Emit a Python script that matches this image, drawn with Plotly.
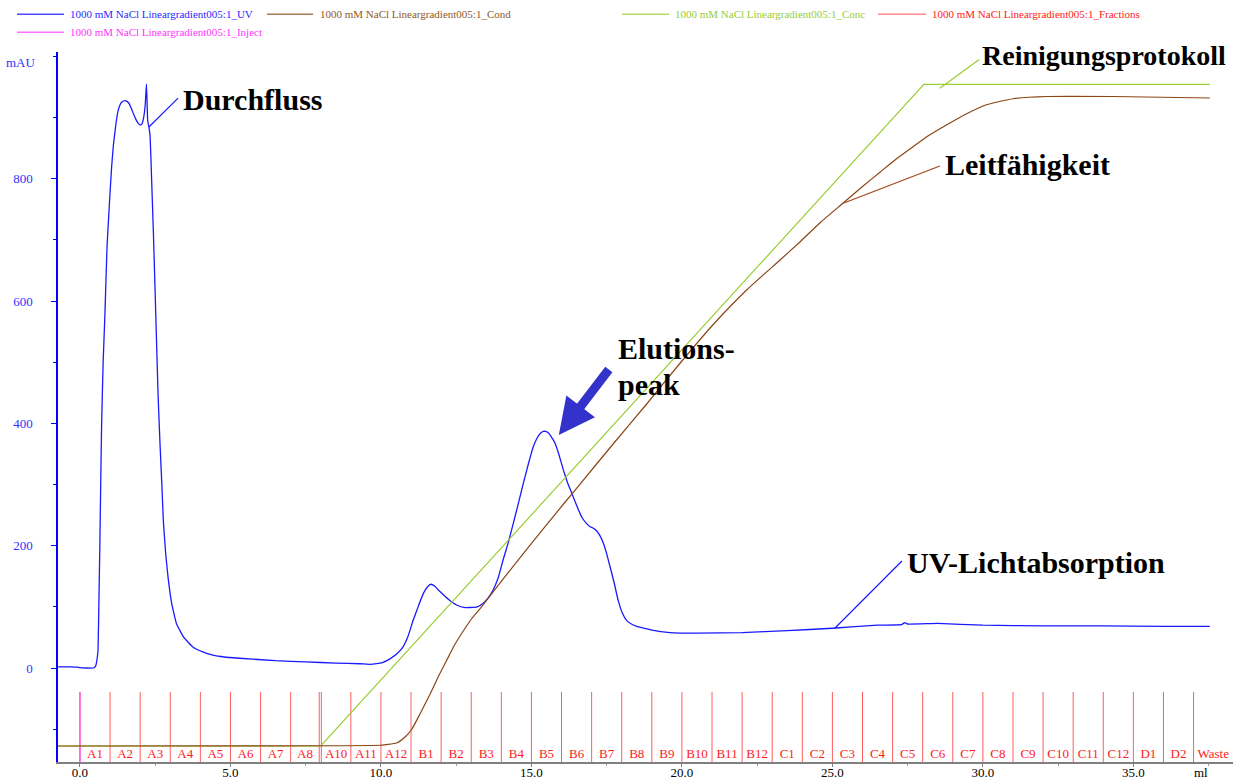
import plotly.graph_objects as go

# ---------------- data ----------------
# UV absorbance at 280 nm (mAU) against eluted volume (ml)
uv_ml = [-0.73, -0.3, -0.1, 0.0, 0.2, 0.45, 0.52, 0.56, 0.60, 0.63, 0.66, 0.69, 0.72,
         0.77, 0.83, 0.90, 0.99, 1.05, 1.11, 1.19, 1.27, 1.34, 1.40, 1.48, 1.55, 1.62,
         1.70, 1.78, 1.85, 1.93, 2.00, 2.06, 2.10, 2.14, 2.17, 2.19, 2.21, 2.23, 2.25,
         2.29, 2.33, 2.38, 2.44, 2.50, 2.55, 2.60, 2.66, 2.72, 2.77, 2.85, 2.93, 3.05,
         3.21, 3.45, 3.76, 4.1, 4.42, 4.8, 5.3, 6.5, 7.5, 8.5, 9.3,
         9.63, 9.85, 10.05, 10.3, 10.55, 10.74, 10.9, 11.07, 11.25, 11.41, 11.55, 11.66,
         11.78, 11.96, 12.25, 12.51, 12.75, 12.96, 13.20, 13.40, 13.57, 13.73, 13.90,
         14.06, 14.23, 14.40, 14.57, 14.73, 14.90, 15.06, 15.20, 15.30, 15.40, 15.47,
         15.55, 15.65, 15.78, 15.92, 16.06, 16.20, 16.34, 16.50, 16.67, 16.82, 16.95,
         17.08, 17.17, 17.28, 17.39, 17.50, 17.61, 17.75, 17.88, 18.02, 18.16, 18.32,
         18.5, 18.75, 19.0, 19.6, 20.5, 22.0, 23.5, 25.0, 26.5, 27.3, 27.4, 27.5, 28.5,
         30.0, 32.0, 34.0, 36.0, 37.54]
uv_mau = [2, 2, 1.5, 0.5, 0, 0, 3, 12, 30, 110, 200, 305, 400,
          500, 580, 690, 770, 818, 855, 888, 912, 922, 926, 928, 927, 924,
          916, 906, 898, 891, 888, 890, 896, 908, 922, 940, 955, 925, 895,
          885, 870, 800, 711, 610, 523, 440, 366, 300, 241, 186, 147, 105,
          72, 50, 34, 26, 21, 18, 16, 12, 10, 8, 7,
          6, 7, 9, 15, 24, 35, 52, 78, 102, 122, 133, 137,
          134, 125, 112, 103, 99, 99, 100, 106, 115, 128, 148,
          177, 205, 237, 270, 302, 334, 362, 377, 384, 387, 387,
          385, 379, 368, 348, 324, 303, 286, 266, 247, 237, 231,
          228, 224, 216, 204, 187, 166, 139, 111, 90, 78, 72,
          68, 65, 62, 58, 57, 58, 61, 65, 70, 71, 74, 72, 73,
          70, 69, 69, 68, 68]

# Conductivity (mS/cm)
cond_ml = [-0.73, 9.97, 10.2, 10.52, 10.8, 11.02, 11.3, 11.63, 11.9, 12.18, 12.45, 12.73,
           13.0, 13.29, 14.40, 15.50, 16.61, 17.72, 18.83, 19.93, 21.04, 22.15, 23.26,
           23.92, 24.6, 25.36, 26.0, 26.58, 27.1, 27.68, 28.2, 28.79, 29.46, 30.12,
           31.0, 32.13, 34.32, 37.54]
cond_ms = [2.0, 2.1, 2.2, 2.4, 3.2, 4.2, 6.3, 8.9, 11.2, 13.4, 15.5, 17.3,
           18.9, 20.3, 26.0, 31.5, 36.9, 42.3, 47.6, 53.0, 58.2, 62.8, 66.8,
           69.2, 71.8, 74.4, 76.6, 78.5, 80.2, 81.9, 83.4, 84.8, 86.3, 87.5,
           88.3, 88.6, 88.6, 88.4]

# Gradient concentration (% of 1000 mM NaCl)
conc_ml = [-0.73, 8.0, 28.04, 37.54]
conc_pct = [0, 0, 100, 100]

# Fraction collector: start volume of each fraction
frac_start_ml = [0.0, 1.0, 2.0, 3.0, 4.0, 5.0, 6.0, 7.0, 7.95, 8.02, 9.0, 10.0,
                 11.0, 12.0, 13.0, 14.0, 15.0, 16.0, 17.0, 18.0, 19.0, 20.0, 21.0, 22.0,
                 23.0, 24.0, 25.0, 26.0, 27.0, 28.0, 29.0, 30.0, 31.0, 32.0, 33.0, 34.0,
                 35.0, 36.0, 37.0]
frac_names = ["A1", "A2", "A3", "A4", "A5", "A6", "A7", "A8", "A9", "A10", "A11", "A12",
              "B1", "B2", "B3", "B4", "B5", "B6", "B7", "B8", "B9", "B10", "B11", "B12",
              "C1", "C2", "C3", "C4", "C5", "C6", "C7", "C8", "C9", "C10", "C11", "C12",
              "D1", "D2", "Waste"]

inject_ml = [0.0]

x_tick_vals = [0, 5, 10, 15, 20, 25, 30, 35]
x_tick_text = ["0.0", "5.0", "10.0", "15.0", "20.0", "25.0", "30.0", "35.0"]
y_tick_vals = [0, 200, 400, 600, 800]

# ---------------- layout constants ----------------
W, H = 1239, 780
PL, PR, PT, PB = 58, 1233, 52, 762          # plot area in pixels
X_RANGE = [-0.73, 38.31]
Y_RANGE = [-153.7, 1007.4]
CONC_RANGE = [-2.42, 104.88]
COND_RANGE = [-0.13, 94.53]
FRAC_TOP = -39.2          # top of fraction marker lines (mAU units)
FRAC_LABEL_Y = -142

SERIF = "Liberation Serif"
UV_COL = "#1a1aff"
COND_COL = "#8b4513"
CONC_COL = "#9acd32"
FRAC_COL = "rgba(255,40,40,0.75)"
INJ_COL = "#ff44ff"


def px_x(p):
    return (p - PL) / (PR - PL)


def px_y(p):
    return (PB - p) / (PB - PT)


fig = go.Figure()

# fraction marker lines
fx, fy = [], []
for b in frac_start_ml:
    fx += [b, b, None]
    fy += [FRAC_TOP, Y_RANGE[0] - 5, None]
fig.add_trace(go.Scatter(x=fx, y=fy, mode="lines", line=dict(color=FRAC_COL, width=1),
                         hoverinfo="skip", showlegend=False))

# fraction labels, centred in each fraction
ends = frac_start_ml[1:] + [X_RANGE[1]]
lab_x, lab_t = [], []
for s, e, n in zip(frac_start_ml, ends, frac_names):
    if e - s > 0.5:
        lab_x.append((s + e) / 2)
        lab_t.append(n)
fig.add_trace(go.Scatter(x=lab_x, y=[FRAC_LABEL_Y] * len(lab_x), mode="text", text=lab_t,
                         textfont=dict(family=SERIF, size=13, color="#ff1a1a"),
                         textposition="middle center", hoverinfo="skip", showlegend=False))

# injection mark
ix, iy = [], []
for v in inject_ml:
    ix += [v, v, None]
    iy += [FRAC_TOP, Y_RANGE[0] - 5, None]
fig.add_trace(go.Scatter(x=ix, y=iy, mode="lines", line=dict(color=INJ_COL, width=1.2),
                         hoverinfo="skip", showlegend=False))

# concentration gradient
fig.add_trace(go.Scatter(x=conc_ml, y=conc_pct, mode="lines", yaxis="y2",
                         line=dict(color=CONC_COL, width=1.2), showlegend=False))
# conductivity
fig.add_trace(go.Scatter(x=cond_ml, y=cond_ms, mode="lines", yaxis="y3",
                         line=dict(color=COND_COL, width=1.2, shape="spline", smoothing=0.5),
                         showlegend=False))
# UV
fig.add_trace(go.Scatter(x=uv_ml, y=uv_mau, mode="lines",
                         line=dict(color=UV_COL, width=1.3, shape="spline", smoothing=0.3),
                         showlegend=False))

# ---------------- legend (drawn manually, two rows) ----------------
legend_items = [
    (17, 64, 68, 14.3, "#4a4aff", "#2a2aff", "1000 mM NaCl Lineargradient005:1_UV"),
    (267, 313, 318, 14.3, "#a47a55", "#8b5a2b", "1000 mM NaCl Lineargradient005:1_Cond"),
    (622, 669, 673, 14.3, "#b5d96a", "#9acd32", "1000 mM NaCl Lineargradient005:1_Conc"),
    (878, 926, 930, 14.3, "#ff8c8c", "#ff2020", "1000 mM NaCl Lineargradient005:1_Fractions"),
    (17, 64, 68, 32.3, "#ff70ff", "#ff33ff", "1000 mM NaCl Lineargradient005:1_Inject"),
]
shapes = []
annotations = []
for x0, x1, tx, yy, lc, tc, name in legend_items:
    shapes.append(dict(type="line", xref="paper", yref="paper", x0=px_x(x0), x1=px_x(x1),
                       y0=px_y(yy), y1=px_y(yy), line=dict(color=lc, width=1.5)))
    annotations.append(dict(xref="paper", yref="paper", x=px_x(tx), y=px_y(yy), text=name,
                            showarrow=False, xanchor="left", yanchor="middle",
                            font=dict(family=SERIF, size=11, color=tc)))

# ---------------- callouts ----------------
leaders = [
    (2.29, 884.7, 3.26, 932.0, UV_COL),
    (28.57, 948.0, 29.88, 995.0, CONC_COL),
    (25.36, 760.0, 28.57, 821.0, "#a5441c"),
    (25.08, 65.0, 27.31, 175.0, UV_COL),
]
for x0, y0, x1, y1, c in leaders:
    shapes.append(dict(type="line", xref="x", yref="y", x0=x0, y0=y0, x1=x1, y1=y1,
                       line=dict(color=c, width=1.2)))

callouts = [
    (181, 99, "Durchfluss", 30),
    (980, 56, "Reinigungsprotokoll", 28),
    (943, 164, "Leitfähigkeit", 30),
    (905, 562, "UV-Lichtabsorption", 30),
    (616, 348, "Elutions-", 30),
    (616, 384, "peak", 30),
]
for px, py, t, sz in callouts:
    annotations.append(dict(xref="paper", yref="paper", x=px_x(px), y=px_y(py),
                            text="<b>%s</b>" % t, showarrow=False, xanchor="left",
                            yanchor="middle", font=dict(family=SERIF, size=sz, color="black")))

# arrow pointing at the elution peak
annotations.append(dict(x=15.91, y=381, ax=17.61, ay=490.6, xref="x", yref="y",
                        axref="x", ayref="y", text="", showarrow=True, arrowhead=2,
                        arrowsize=0.8, arrowwidth=9, arrowcolor="#3333cc", standoff=0))

# axis unit labels
annotations.append(dict(xref="paper", yref="paper", x=px_x(38), y=px_y(63), text="mAU",
                        showarrow=False, xanchor="right", yanchor="middle",
                        font=dict(family=SERIF, size=13, color="#3030ff")))
annotations.append(dict(xref="paper", yref="paper", x=px_x(1201), y=px_y(772), text="ml",
                        showarrow=False, xanchor="center", yanchor="middle",
                        font=dict(family=SERIF, size=13, color="black")))

fig.update_layout(
    width=W, height=H, autosize=False,
    margin=dict(l=PL, r=W - PR, t=PT, b=H - PB, pad=0, autoexpand=False),
    paper_bgcolor="white", plot_bgcolor="white",
    showlegend=False,
    xaxis=dict(range=X_RANGE, tickvals=x_tick_vals, ticktext=x_tick_text, automargin=False,
               showgrid=False, zeroline=False, showline=True, linecolor="#7f7f7f",
               linewidth=1.5, ticks="outside", ticklen=3, tickcolor="#7f7f7f",
               ticklabelstandoff=-5,
               tickfont=dict(family=SERIF, size=13, color="black"),
               minor=dict(dtick=2.5, tick0=0, ticks="outside", ticklen=2,
                          tickcolor="#9f9f9f")),
    yaxis=dict(range=Y_RANGE, tickvals=y_tick_vals, showgrid=False, zeroline=False,
               automargin=False,
               showline=True, linecolor="#0000ff", linewidth=1.5, ticks="outside",
               ticklen=5, tickcolor="#0000ff", ticklabelstandoff=16,
               tickfont=dict(family=SERIF, size=13, color="#3030ff"),
               minor=dict(dtick=100, tick0=0, ticks="outside", ticklen=3,
                          tickcolor="#0000ff")),
    yaxis2=dict(range=CONC_RANGE, overlaying="y", visible=False),
    yaxis3=dict(range=COND_RANGE, overlaying="y", visible=False),
    shapes=shapes,
    annotations=annotations,
)

fig.write_html("out.html")
